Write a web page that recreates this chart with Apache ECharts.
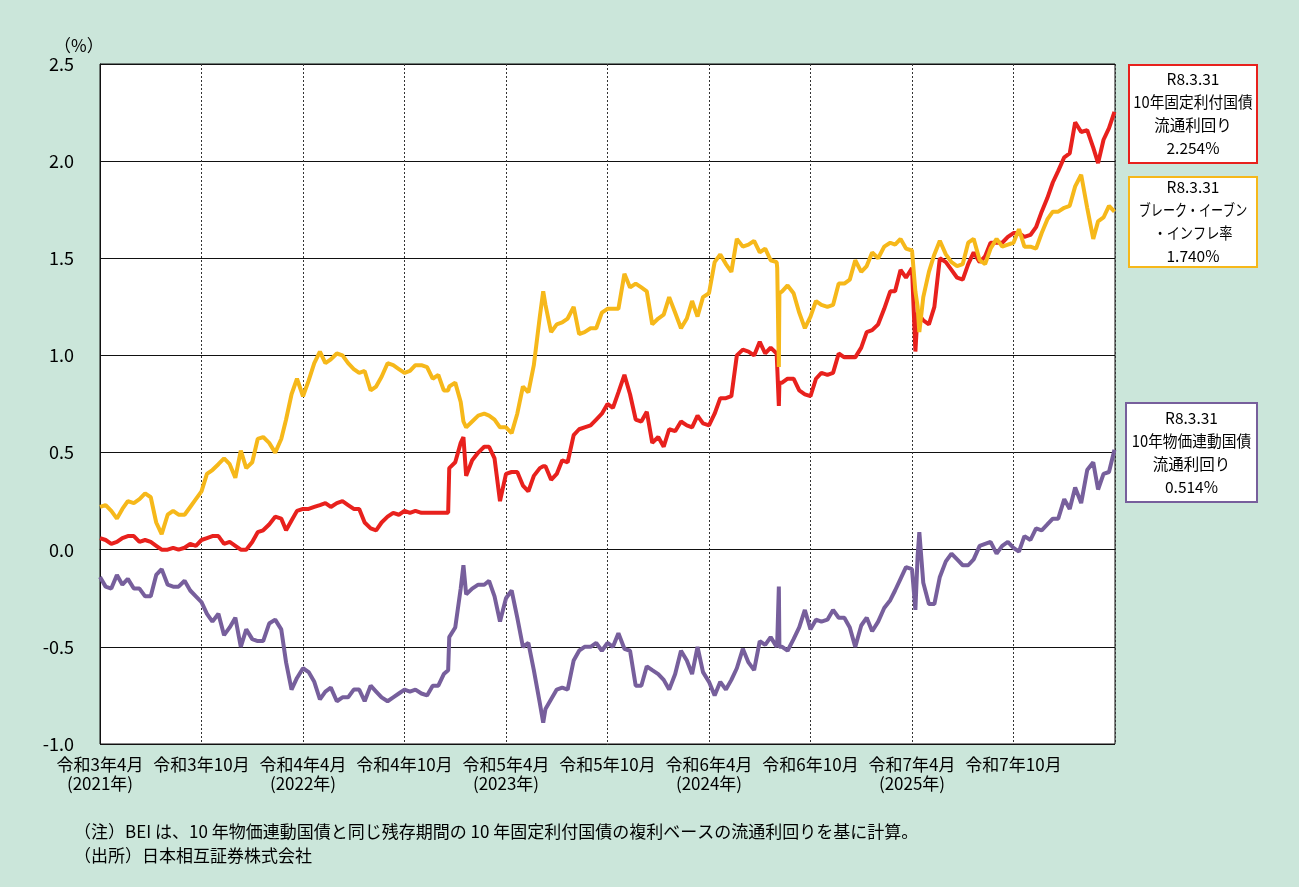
<!DOCTYPE html>
<html>
<head>
<meta charset="utf-8">
<script src="https://cdn.jsdelivr.net/npm/echarts/dist/echarts.min.js"></script>
<style>
  html, body { margin: 0; padding: 0; background: #cbe6da; }
  #chart { width: 1299px; height: 887px; }
</style>
</head>
<body>
<div id="chart"></div>
<script>
// sampling dates (roughly every 10 days, plus a few spike days)
var dates = [
  '2021-04-01','2021-04-11','2021-04-21','2021-05-01','2021-05-11','2021-05-21','2021-06-01','2021-06-11','2021-06-21',
  '2021-07-01','2021-07-11','2021-07-21','2021-08-01','2021-08-11','2021-08-21','2021-09-01','2021-09-11','2021-09-21',
  '2021-10-01','2021-10-11','2021-10-21','2021-11-01','2021-11-11','2021-11-21','2021-12-01','2021-12-11','2021-12-21',
  '2022-01-01','2022-01-11','2022-01-21','2022-02-01','2022-02-11','2022-02-21','2022-03-01','2022-03-11','2022-03-21',
  '2022-04-01','2022-04-11','2022-04-21','2022-05-01','2022-05-11','2022-05-21','2022-06-01','2022-06-11','2022-06-21',
  '2022-07-01','2022-07-11','2022-07-21','2022-08-01','2022-08-11','2022-08-21','2022-09-01','2022-09-11','2022-09-21',
  '2022-10-01','2022-10-11','2022-10-21','2022-11-01','2022-11-11','2022-11-21','2022-12-01','2022-12-11','2022-12-19','2022-12-21',
  '2023-01-01','2023-01-11','2023-01-16','2023-01-21','2023-02-01','2023-02-11','2023-02-21','2023-03-01','2023-03-11','2023-03-21',
  '2023-04-01','2023-04-11','2023-04-21','2023-05-01','2023-05-11','2023-05-21','2023-06-01','2023-06-07','2023-06-11','2023-06-21',
  '2023-07-01','2023-07-11','2023-07-21','2023-08-01','2023-08-11','2023-08-21','2023-09-01','2023-09-11','2023-09-21',
  '2023-10-01','2023-10-11','2023-10-21','2023-11-01','2023-11-11','2023-11-21','2023-12-01','2023-12-11','2023-12-21',
  '2024-01-01','2024-01-11','2024-01-21','2024-02-01','2024-02-11','2024-02-21','2024-03-01','2024-03-11','2024-03-21',
  '2024-04-01','2024-04-11','2024-04-21','2024-05-01','2024-05-11','2024-05-21','2024-06-01','2024-06-11','2024-06-21',
  '2024-07-01','2024-07-11','2024-07-21','2024-08-01','2024-08-02','2024-08-05','2024-08-06','2024-08-11','2024-08-21','2024-09-01','2024-09-11','2024-09-21',
  '2024-10-01','2024-10-11','2024-10-21','2024-11-01','2024-11-11','2024-11-21','2024-12-01','2024-12-11','2024-12-21',
  '2025-01-01','2025-01-11','2025-01-21','2025-02-01','2025-02-11','2025-02-21','2025-03-01','2025-03-11','2025-03-21',
  '2025-04-01','2025-04-07','2025-04-11','2025-04-14','2025-04-21','2025-05-01','2025-05-11','2025-05-21','2025-06-01','2025-06-11','2025-06-21',
  '2025-07-01','2025-07-11','2025-07-21','2025-08-01','2025-08-11','2025-08-21','2025-09-01','2025-09-11','2025-09-21',
  '2025-10-01','2025-10-11','2025-10-21','2025-11-01','2025-11-11','2025-11-21','2025-12-01','2025-12-11','2025-12-21',
  '2026-01-01','2026-01-11','2026-01-21','2026-02-01','2026-02-11','2026-02-21','2026-03-01','2026-03-11','2026-03-21','2026-03-31'
];

// 10年固定利付国債 流通利回り
var fixedYield = [
  0.06,0.05,0.03,0.04,0.06,0.07,0.07,0.04,0.05, 0.04,0.02,0.00,0.00,0.01,0.00,0.01,0.03,0.02, 0.05,0.06,0.07,0.07,0.03,0.04,0.02,0.00,0.00,
  0.04,0.09,0.10,0.13,0.17,0.16,0.10,0.15,0.20, 0.21,0.21,0.22,0.23,0.24,0.22,0.24,0.25,0.23, 0.21,0.21,0.14,0.11,0.10,0.14,0.17,0.19,0.18, 0.20,0.19,0.20,0.19,0.19,0.19,0.19,0.19,0.19,0.42,
  0.45,0.55,0.58,0.38,0.46,0.50,0.53,0.53,0.47,0.25, 0.39,0.40,0.40,0.33,0.30,0.38,0.42,0.43,0.43,0.36, 0.39,0.46,0.45,0.59,0.62,0.63,0.64,0.67,0.70, 0.75,0.73,0.81,0.90,0.80,0.67,0.66,0.71,0.55,
  0.58,0.53,0.62,0.61,0.66,0.64,0.63,0.69,0.65, 0.64,0.70,0.78,0.78,0.79,1.00,1.03,1.02,1.00, 1.07,1.01,1.04,1.01,1.00,0.74,0.86,0.86,0.88,0.88,0.82,0.80, 0.79,0.88,0.91,0.90,0.91,1.01,0.99,0.99,0.99,
  1.04,1.12,1.13,1.16,1.24,1.33,1.33,1.44,1.40, 1.45,1.02,1.22,1.21,1.18,1.16,1.25,1.50,1.48,1.44,1.40, 1.39,1.47,1.53,1.48,1.51,1.58,1.58,1.58,1.61, 1.63,1.63,1.61,1.62,1.66,1.74,1.81,1.89,1.95,
  2.02,2.04,2.20,2.15,2.16,2.07,1.99,2.11,2.17,2.254
];

// ブレーク・イーブン・インフレ率
var bei = [
  0.22,0.23,0.20,0.16,0.21,0.25,0.24,0.26,0.29, 0.27,0.14,0.08,0.18,0.20,0.18,0.18,0.22,0.26, 0.30,0.39,0.41,0.44,0.47,0.44,0.37,0.51,0.42,
  0.45,0.57,0.58,0.55,0.50,0.57,0.67,0.80,0.88, 0.79,0.87,0.96,1.02,0.96,0.98,1.01,1.00,0.96, 0.93,0.91,0.92,0.82,0.84,0.89,0.96,0.95,0.93, 0.91,0.92,0.95,0.95,0.94,0.88,0.90,0.82,0.82,0.84,
  0.86,0.76,0.66,0.63,0.66,0.69,0.70,0.69,0.67,0.63, 0.63,0.60,0.70,0.84,0.81,0.95,1.20,1.33,1.26,1.12, 1.16,1.17,1.19,1.25,1.11,1.12,1.14,1.14,1.22, 1.24,1.24,1.24,1.42,1.35,1.37,1.35,1.33,1.16,
  1.19,1.21,1.30,1.22,1.14,1.19,1.28,1.20,1.30, 1.32,1.48,1.52,1.47,1.43,1.60,1.56,1.57,1.59, 1.53,1.55,1.49,1.48,1.45,0.94,1.32,1.33,1.36,1.32,1.22,1.14, 1.20,1.28,1.26,1.25,1.26,1.37,1.37,1.39,1.49,
  1.43,1.46,1.53,1.50,1.56,1.58,1.57,1.60,1.55, 1.54,1.33,1.25,1.12,1.30,1.43,1.52,1.59,1.52,1.48,1.46, 1.47,1.58,1.60,1.49,1.47,1.55,1.60,1.56,1.57, 1.58,1.65,1.56,1.56,1.55,1.63,1.70,1.74,1.74,
  1.76,1.77,1.87,1.93,1.76,1.60,1.69,1.71,1.77,1.740
];

// 10年物価連動国債 流通利回り
var linkedYield = [
  -0.14,-0.19,-0.20,-0.13,-0.18,-0.15,-0.20,-0.20,-0.24, -0.24,-0.13,-0.10,-0.18,-0.19,-0.19,-0.16,-0.21,-0.24, -0.27,-0.33,-0.37,-0.33,-0.44,-0.40,-0.35,-0.50,-0.41,
  -0.46,-0.47,-0.47,-0.38,-0.36,-0.41,-0.58,-0.72,-0.66, -0.61,-0.63,-0.68,-0.77,-0.73,-0.71,-0.78,-0.76,-0.76, -0.72,-0.72,-0.78,-0.70,-0.73,-0.76,-0.78,-0.76,-0.74, -0.72,-0.73,-0.72,-0.74,-0.75,-0.70,-0.70,-0.64,-0.62,-0.45,
  -0.40,-0.20,-0.08,-0.23,-0.20,-0.18,-0.18,-0.16,-0.24,-0.37, -0.25,-0.21,-0.35,-0.50,-0.48,-0.62,-0.79,-0.89,-0.82,-0.77, -0.72,-0.71,-0.72,-0.57,-0.52,-0.50,-0.50,-0.48,-0.52, -0.48,-0.50,-0.43,-0.51,-0.52,-0.70,-0.70,-0.60,-0.62,
  -0.64,-0.67,-0.72,-0.64,-0.52,-0.57,-0.64,-0.50,-0.63, -0.68,-0.75,-0.68,-0.72,-0.67,-0.61,-0.51,-0.58,-0.62, -0.47,-0.49,-0.45,-0.50,-0.48,-0.19,-0.50,-0.50,-0.52,-0.46,-0.40,-0.31, -0.41,-0.36,-0.37,-0.36,-0.31,-0.35,-0.35,-0.40,-0.50,
  -0.39,-0.35,-0.42,-0.37,-0.30,-0.26,-0.21,-0.15,-0.09, -0.10,-0.31,-0.03,0.09,-0.17,-0.28,-0.28,-0.14,-0.06,-0.02,-0.05, -0.08,-0.08,-0.05,0.02,0.03,0.04,-0.02,0.02,0.04, 0.01,-0.01,0.07,0.05,0.11,0.10,0.13,0.16,0.16,
  0.26,0.21,0.32,0.24,0.41,0.45,0.31,0.39,0.40,0.514
];

var xTickLabels = ['令和3年4月','令和3年10月','令和4年4月','令和4年10月','令和5年4月','令和5年10月','令和6年4月','令和6年10月','令和7年4月','令和7年10月'];
var xYearLabels = ['(2021年)','','(2022年)','','(2023年)','','(2024年)','','(2025年)',''];

if (fixedYield.length !== dates.length || bei.length !== dates.length || linkedYield.length !== dates.length) {
  throw new Error('length mismatch ' + dates.length + ' ' + fixedYield.length + ' ' + bei.length + ' ' + linkedYield.length);
}

// months elapsed since 2021-04-01
function toMonths(s) {
  var p = s.split('-');
  var y = +p[0], m = +p[1], d = +p[2];
  var dim = new Date(y, m, 0).getDate();
  return (y - 2021) * 12 + (m - 4) + (d - 1) / dim;
}

function pairs(vals) {
  return vals.map(function (v, i) { return [toMonths(dates[i]), v]; });
}

var RED = '#e8211d', YELLOW = '#f6b81a', PURPLE = '#775f9c';
var FONT = '"Noto Sans CJK JP", sans-serif';

var chart = echarts.init(document.getElementById('chart'));

// framed note box; each line may carry its own horizontal squeeze
function box(x, y, w, h, color, lines) {
  var out = [{
    type: 'rect',
    shape: { x: x, y: y, width: w, height: h },
    style: { fill: '#fff', stroke: color, lineWidth: 2 }
  }];
  var top = y + h / 2 - (lines.length - 1) * 23 / 2;
  lines.forEach(function (ln, i) {
    out.push({
      type: 'text',
      x: x + w / 2,
      y: top + i * 23,
      scaleX: ln.sx || 1,
      style: {
        text: ln.t,
        align: 'center',
        verticalAlign: 'middle',
        font: '15.5px ' + FONT,
        fill: '#000'
      }
    });
  });
  return out;
}

var last = dates.length - 1;
var graphics = [].concat(
  box(1129, 65, 128, 98, RED, [{ t: 'R8.3.31' }, { t: '10年固定利付国債', sx: 0.95 }, { t: '流通利回り' }, { t: fixedYield[last].toFixed(3) + '%' }]),
  box(1129, 177, 128, 90, YELLOW, [{ t: 'R8.3.31' }, { t: 'ブレーク・イーブン', sx: 0.78 }, { t: '・インフレ率', sx: 0.85 }, { t: bei[last].toFixed(3) + '%' }]),
  box(1126, 403, 131, 99, PURPLE, [{ t: 'R8.3.31' }, { t: '10年物価連動国債', sx: 0.95 }, { t: '流通利回り' }, { t: linkedYield[last].toFixed(3) + '%' }]),
  [{
    type: 'text', x: 54, y: 46,
    style: { text: '（%）', verticalAlign: 'middle', font: '17px ' + FONT, fill: '#000' }
  }, {
    type: 'text', x: 74, y: 832,
    style: { text: '（注）BEI は、10 年物価連動国債と同じ残存期間の 10 年固定利付国債の複利ベースの流通利回りを基に計算。', verticalAlign: 'middle', font: '17px ' + FONT, fill: '#000' }
  }, {
    type: 'text', x: 74, y: 856,
    style: { text: '（出所）日本相互証券株式会社', verticalAlign: 'middle', font: '17px ' + FONT, fill: '#000' }
  }]
);

var option = {
  backgroundColor: '#cbe6da',
  animation: false,
  grid: {
    left: 100, top: 64, right: 184, bottom: 143,
    show: true, backgroundColor: '#fff', borderColor: '#111', borderWidth: 1
  },
  xAxis: {
    type: 'value',
    min: 0, max: 60, interval: 6,
    axisLine: { show: true, lineStyle: { color: '#111', width: 1 } },
    axisTick: { show: false },
    splitLine: { show: true, lineStyle: { color: '#333', type: [2, 2], width: 1 } },
    axisLabel: {
      margin: 11,
      fontFamily: FONT, fontSize: 17, color: '#000', lineHeight: 19,
      showMaxLabel: false,
      formatter: function (v) {
        var i = Math.round(v / 6);
        if (i >= xTickLabels.length) return '';
        return xTickLabels[i] + (xYearLabels[i] ? '\n' + xYearLabels[i] : '');
      }
    }
  },
  yAxis: {
    type: 'value',
    min: -1, max: 2.5, interval: 0.5,
    axisLine: { show: true, lineStyle: { color: '#111', width: 1 } },
    axisTick: { show: false },
    splitLine: { show: true, lineStyle: { color: '#111', width: 1 } },
    axisLabel: {
      margin: 26,
      fontFamily: FONT, fontSize: 18, color: '#000',
      formatter: function (v) { return v.toFixed(1); }
    }
  },
  graphic: graphics,
  series: [
    { name: '10年固定利付国債', type: 'line', data: pairs(fixedYield), symbol: 'none', lineStyle: { color: RED, width: 4 } },
    { name: 'BEI', type: 'line', data: pairs(bei), symbol: 'none', lineStyle: { color: YELLOW, width: 4 } },
    { name: '10年物価連動国債', type: 'line', data: pairs(linkedYield), symbol: 'none', lineStyle: { color: PURPLE, width: 4 } }
  ]
};

chart.setOption(option);
</script>
</body>
</html>
